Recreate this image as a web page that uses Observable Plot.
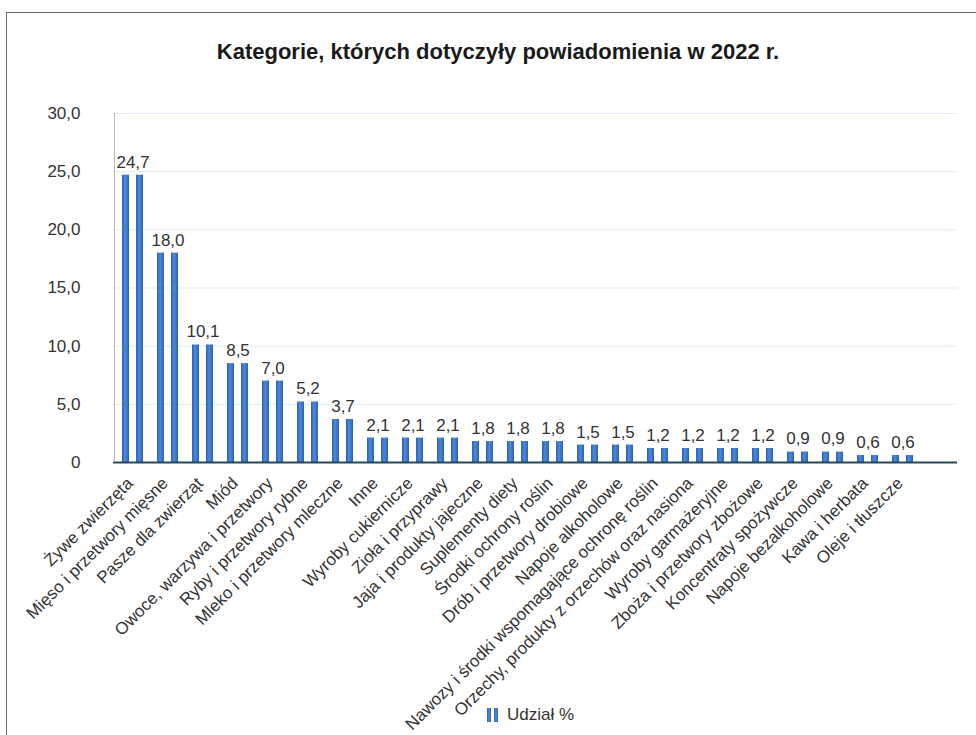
<!DOCTYPE html>
<html><head><meta charset="utf-8">
<script src="https://cdn.jsdelivr.net/npm/d3@7"></script>
<script src="https://cdn.jsdelivr.net/npm/@observablehq/plot@0.6"></script>
<style>
body{margin:0;background:#fff;overflow:hidden;font-family:"Liberation Sans",Arial,sans-serif;}
#wrap{position:relative;width:976px;height:735px;overflow:hidden;}
#border{position:absolute;left:6px;top:12px;width:1100px;height:900px;border:1.5px solid #6a6a6a;}
#title{position:absolute;left:0;top:39px;width:996px;text-align:center;font-weight:bold;font-size:22px;color:#1a1a1a;}
#chart{position:absolute;left:0;top:90px;}
#legend{position:absolute;left:487px;top:705px;font-size:17px;color:#333;display:flex;align-items:center;}
#legend .sw{display:inline-block;width:4px;height:14px;margin-right:3px;background:linear-gradient(90deg,#2a5fb0,#4f8fdc,#2a5fb0);}
</style></head>
<body>
<svg width="0" height="0" style="position:absolute"><defs>
<linearGradient id="strip" x1="0" x2="1" y1="0" y2="0">
<stop offset="0" stop-color="#2b62b4"/><stop offset="0.45" stop-color="#4d8ad8"/><stop offset="1" stop-color="#2b62b4"/>
</linearGradient></defs></svg>
<div id="wrap">
<div id="border"></div>
<div id="title">Kategorie, których dotyczyły powiadomienia w 2022 r.</div>
<div id="chart"></div>
<div id="legend"><span class="sw"></span><span class="sw" style="margin-right:9px"></span><span>Udział %</span></div>
</div>
<script>
const categories = [
  "Żywe zwierzęta","Mięso i przetwory mięsne","Pasze dla zwierząt","Miód",
  "Owoce, warzywa i przetwory","Ryby i przetwory rybne","Mleko i przetwory mleczne","Inne",
  "Wyroby cukiernicze","Zioła i przyprawy","Jaja i produkty jajeczne","Suplementy diety",
  "Środki ochrony roślin","Drób i przetwory drobiowe","Napoje alkoholowe",
  "Nawozy i środki wspomagające ochronę roślin","Orzechy, produkty z orzechów oraz nasiona",
  "Wyroby garmażeryjne","Zboża i przetwory zbożowe","Koncentraty spożywcze",
  "Napoje bezalkoholowe","Kawa i herbata","Oleje i tłuszcze"
];
const values = [24.7,18.0,10.1,8.5,7.0,5.2,3.7,2.1,2.1,2.1,1.8,1.8,1.8,1.5,1.5,1.2,1.2,1.2,1.2,0.9,0.9,0.6,0.6];
const yTicks = [0,5,10,15,20,25,30];

const data = categories.map((c,i)=>({category:c, value:values[i]}));
const fmt = v => v===0 ? "0" : v.toFixed(1).replace(".", ",");

const chart = Plot.plot({
  width:976, height:645, marginTop:23, marginBottom:273, marginLeft:113, marginRight:19,
  style:{fontFamily:"'Liberation Sans', Arial, sans-serif", fontSize:"17px", color:"#333", background:"transparent"},
  x:{domain:categories, range:[114,921.3], paddingInner:0.4, paddingOuter:0.2, label:null},
  y:{domain:[0,30], label:null},
  marks:[
    Plot.gridY(yTicks.filter(d=>d>0), {stroke:"#d6e6f5", strokeOpacity:0.8}),
    Plot.barY(data,{x:"category", y:"value", fill:"url(#strip)", insetRight:14}),
    Plot.barY(data,{x:"category", y:"value", fill:"url(#strip)", insetLeft:14}),
    Plot.ruleY([0],{stroke:"#24485a", strokeWidth:2}),
    Plot.ruleX([categories[0]],{y1:0, y2:30, dx:-18.5, stroke:"#b8b8b8"}),
    Plot.text(data,{x:"category", y:"value", text:d=>fmt(d.value), dy:-13, fill:"#333", fontSize:17}),
    Plot.axisY(yTicks,{tickSize:0, tickPadding:33, tickFormat:fmt, fontSize:17, fill:"#333"}),
    Plot.axisX({tickSize:0, tickRotate:-45, tickPadding:18, dx:-3, fontSize:17, fill:"#333"})
  ]
});
document.getElementById("chart").appendChild(chart);
</script>
</body></html>
